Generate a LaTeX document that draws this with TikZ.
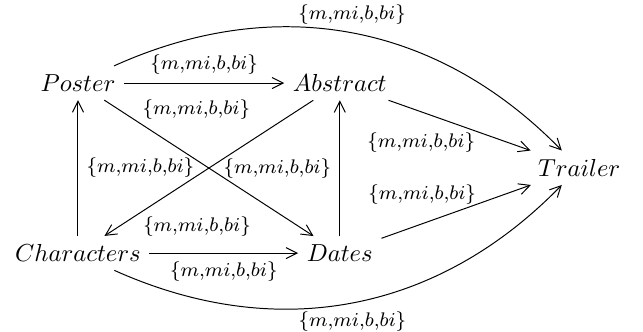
\documentclass[tikz,border=0pt]{standalone}
\usetikzlibrary{arrows.meta}
\newcommand{\rel}{$\{m{,}mi{,}b{,}bi\}$}
\begin{document}
\begin{tikzpicture}[>={Straight Barb[length=4.5pt,width=4.5pt]}, lbl/.style={font=\footnotesize}]
            \useasboundingbox (-1.114,-3.543) rectangle (8.071,1.186);
            \node (poster) at (0,0) {$Poster$};
            \node (abstract) at (3.74,0) {$Abstract$};
            \node (characters) at (0,-2.43) {$Characters$};
            \node (dates) at (3.74,-2.43) {$Dates$};
            \node (trailer) at (7.16,-1.21) {$Trailer$};
            % square
            \draw (poster) edge[->] node[lbl,above] {\rel} (abstract);
            \draw (characters) edge[->] node[lbl,below] {\rel} (dates);
            \draw (characters) edge[->] node[lbl,right] {\rel} (poster);
            \draw (dates) edge[->] node[lbl,left] {\rel} (abstract);
            % diagonals
            \draw (abstract) edge[->] node[lbl,midway,xshift=-1.8mm,yshift=8.4mm] {\rel} (characters);
            \draw (poster) edge[->] node[lbl,midway,xshift=-1.7mm,yshift=-8.3mm] {\rel} (dates);
            % into trailer
            \draw (abstract) edge[->] node[lbl,pos=.67,anchor=north east,yshift=1.4mm] {\rel} (trailer);
            \draw (dates) edge[->] node[lbl,pos=.69,anchor=south east,yshift=-1.6mm] {\rel} (trailer);
            \draw (poster) edge[->,bend left=35] node[lbl,above] {\rel} (trailer);
            \draw (characters) edge[->,bend right=35] node[lbl,below] {\rel} (trailer);
\end{tikzpicture}
\end{document}
